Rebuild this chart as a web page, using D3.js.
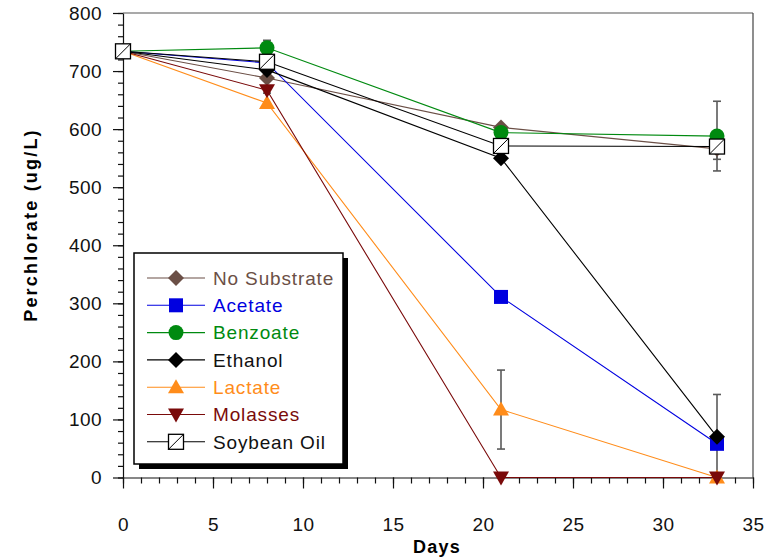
<!DOCTYPE html>
<html>
<head>
<meta charset="utf-8">
<script src="https://cdn.jsdelivr.net/npm/d3@7"></script>
<style>
  body { margin: 0; background: #fff; }
  svg { display: block; font-family: Arial, "Liberation Sans", sans-serif; }
</style>
</head>
<body>
<div id="chart"></div>
<script>
// data
var days = [0, 8, 21, 33];
var noSubstrate = [734, 688, 603, 566];
var acetate = [734, 714, 311, 58];
var benzoate = [734, 740, 594, 588];
var ethanol = [734, 702, 550, 70];
var lactate = [734, 645, 117, 0];
var molasses = [734, 667, 0, 0];
var soybeanOil = [734, 716, 571, 570];

// error bars (+/-)
var benzoateErr = [0, 13, 0, 60];
var molassesErr = [0, 5, 0, 0];
var lactateErr = [0, 0, 68, 0];
var ethanolErr = [0, 0, 0, 73];
var soybeanErr = [0, 0, 0, 22];

var seriesNames = ["No Substrate", "Acetate", "Benzoate", "Ethanol", "Lactate", "Molasses", "Soybean Oil"];
var xTicks = [0, 5, 10, 15, 20, 25, 30, 35];
var yTicks = [0, 100, 200, 300, 400, 500, 600, 700, 800];

var series = [
  {name: seriesNames[0], values: noSubstrate, color: "#6b4f46", marker: "diamond"},
  {name: seriesNames[1], values: acetate, color: "#0000e0", marker: "square"},
  {name: seriesNames[2], values: benzoate, err: benzoateErr, color: "#008a10", marker: "circle"},
  {name: seriesNames[3], values: ethanol, err: ethanolErr, color: "#000000", marker: "diamond"},
  {name: seriesNames[4], values: lactate, err: lactateErr, color: "#ff8c1a", marker: "triangle"},
  {name: seriesNames[5], values: molasses, err: molassesErr, color: "#7a0a0a", marker: "triangleDown"},
  {name: seriesNames[6], values: soybeanOil, err: soybeanErr, color: "#000000", marker: "halfSquare"}
];

var svg = d3.select("#chart").append("svg")
  .attr("width", 776)
  .attr("height", 558);

var x = d3.scaleLinear().domain([0, 35]).range([123, 753]);
var y = d3.scaleLinear().domain([0, 800]).range([477.5, 13]);

// frame (top and right)
svg.append("line").attr("x1", x(0)).attr("x2", x(35)).attr("y1", y(800)).attr("y2", y(800))
  .attr("stroke", "#555").attr("stroke-width", 1.2);
svg.append("line").attr("x1", x(35)).attr("x2", x(35)).attr("y1", y(800)).attr("y2", y(0))
  .attr("stroke", "#444").attr("stroke-width", 1.2);

// y axis
var yMinor = svg.append("g").attr("transform", "translate(" + x(0) + ",0)")
  .call(d3.axisLeft(y).tickValues(d3.range(0, 801, 20)).tickSize(5).tickSizeOuter(0).tickFormat(""));
yMinor.select(".domain").remove();
var yAxis = svg.append("g").attr("transform", "translate(" + x(0) + ",0)")
  .call(d3.axisLeft(y).tickValues(yTicks).tickSize(10).tickSizeOuter(0).tickPadding(11));

// x axis
var xMinor = svg.append("g").attr("transform", "translate(0," + y(0) + ")")
  .call(d3.axisBottom(x).tickValues(d3.range(0, 36, 1)).tickSize(6).tickSizeOuter(0).tickFormat(""));
xMinor.select(".domain").remove();
var xAxis = svg.append("g").attr("transform", "translate(0," + y(0) + ")")
  .call(d3.axisBottom(x).tickValues(xTicks).tickSize(11).tickSizeOuter(0).tickPadding(29));

svg.selectAll(".tick line").attr("stroke", "#111").attr("stroke-width", 1.2);
svg.selectAll(".domain").attr("stroke", "#111").attr("stroke-width", 1.2);
svg.selectAll(".tick text")
  .attr("font-family", "Arial, 'Liberation Sans', sans-serif")
  .attr("font-size", 19)
  .attr("letter-spacing", 0.4)
  .attr("fill", "#111");

// axis titles
svg.append("text")
  .attr("transform", "translate(37,225) rotate(-90)")
  .attr("text-anchor", "middle")
  .attr("font-size", 18)
  .attr("font-weight", "bold")
  .attr("letter-spacing", 2.2)
  .text("Perchlorate (ug/L)");

svg.append("text")
  .attr("x", 437).attr("y", 553)
  .attr("text-anchor", "middle")
  .attr("font-size", 18)
  .attr("font-weight", "bold")
  .attr("letter-spacing", 1.2)
  .text("Days");

function drawMarker(g, type, color, cx, cy) {
  if (type === "diamond") {
    g.append("path")
      .attr("d", "M" + cx + "," + (cy - 8) + "L" + (cx + 8) + "," + cy + "L" + cx + "," + (cy + 8) + "L" + (cx - 8) + "," + cy + "Z")
      .attr("fill", color);
  } else if (type === "square") {
    g.append("rect").attr("x", cx - 7).attr("y", cy - 7).attr("width", 14).attr("height", 14).attr("fill", color);
  } else if (type === "circle") {
    g.append("circle").attr("cx", cx).attr("cy", cy).attr("r", 7.5).attr("fill", color);
  } else if (type === "triangle") {
    g.append("path")
      .attr("d", "M" + cx + "," + (cy - 8) + "L" + (cx + 8) + "," + (cy + 6) + "L" + (cx - 8) + "," + (cy + 6) + "Z")
      .attr("fill", color);
  } else if (type === "triangleDown") {
    g.append("path")
      .attr("d", "M" + cx + "," + (cy + 8) + "L" + (cx + 8) + "," + (cy - 6) + "L" + (cx - 8) + "," + (cy - 6) + "Z")
      .attr("fill", color);
  } else if (type === "halfSquare") {
    g.append("rect").attr("x", cx - 7.5).attr("y", cy - 7.5).attr("width", 15).attr("height", 15)
      .attr("fill", "#fff").attr("stroke", "#000").attr("stroke-width", 1.3);
    g.append("line").attr("x1", cx - 7.5).attr("y1", cy + 7.5).attr("x2", cx + 7.5).attr("y2", cy - 7.5)
      .attr("stroke", "#000").attr("stroke-width", 1);
  }
}

var line = d3.line()
  .x(function(d, i) { return x(days[i]); })
  .y(function(d) { return y(d); });

// error bars first
series.forEach(function(s) {
  if (!s.err) return;
  s.err.forEach(function(e, i) {
    if (!e) return;
    var cx = x(days[i]);
    var top = y(s.values[i] + e), bot = y(Math.max(0, s.values[i] - e));
    var eg = svg.append("g").attr("stroke", "#5a5a5a").attr("stroke-width", 1.6);
    eg.append("line").attr("x1", cx).attr("x2", cx).attr("y1", top).attr("y2", bot);
    eg.append("line").attr("x1", cx - 4).attr("x2", cx + 4).attr("y1", top).attr("y2", top);
    eg.append("line").attr("x1", cx - 4).attr("x2", cx + 4).attr("y1", bot).attr("y2", bot);
  });
});

// lines and markers
series.forEach(function(s) {
  var g = svg.append("g").attr("class", "series");
  g.append("path")
    .datum(s.values)
    .attr("d", line)
    .attr("fill", "none")
    .attr("stroke", s.color)
    .attr("stroke-width", 1.1);
  s.values.forEach(function(v, i) {
    drawMarker(g, s.marker, s.color, x(days[i]), y(v));
  });
});

// legend
var lg = svg.append("g");
lg.append("rect").attr("x", 139).attr("y", 258).attr("width", 209).attr("height", 211).attr("fill", "#000");
lg.append("rect").attr("x", 134).attr("y", 253).attr("width", 209).attr("height", 211)
  .attr("fill", "#fff").attr("stroke", "#000").attr("stroke-width", 1.5);

series.forEach(function(s, i) {
  var cy = 278 + i * 27.3;
  lg.append("line").attr("x1", 147).attr("x2", 205).attr("y1", cy).attr("y2", cy)
    .attr("stroke", s.color).attr("stroke-width", 1.1);
  drawMarker(lg, s.marker, s.color, 176, cy);
  lg.append("text")
    .attr("x", 213).attr("y", cy)
    .attr("dy", "0.36em")
    .attr("font-size", 19)
    .attr("letter-spacing", 0.85)
    .attr("fill", s.color === "#000000" ? "#111" : s.color)
    .text(s.name);
});
</script>
</body>
</html>
